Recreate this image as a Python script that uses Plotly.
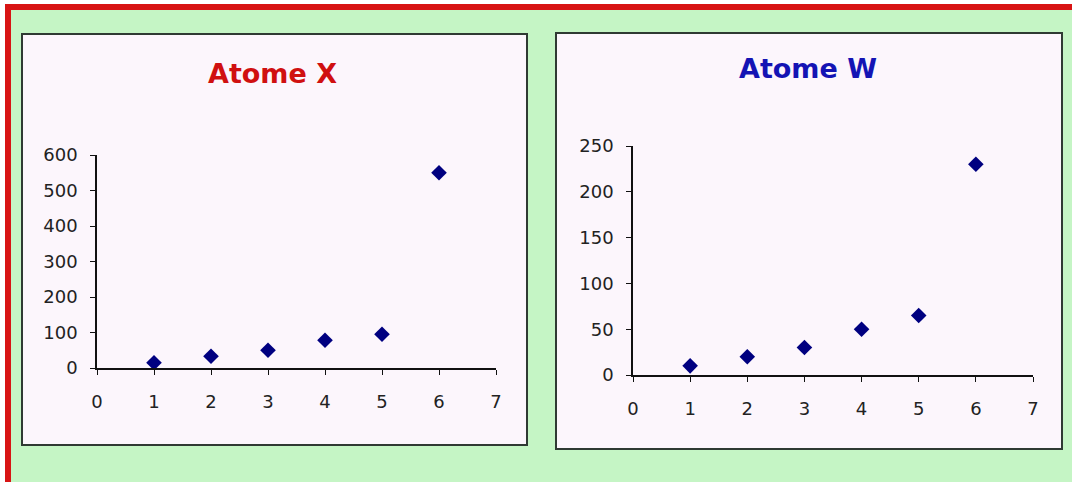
import plotly.graph_objects as go

W, H = 1072, 482

# ---- data ----
x_vals = [1, 2, 3, 4, 5, 6]
atome_x = [15, 33, 50, 78, 95, 550]
atome_w = [10, 20, 30, 50, 65, 230]
title_x = "Atome X"
title_w = "Atome W"
x_ticks = [0, 1, 2, 3, 4, 5, 6, 7]
y_ticks_x = [0, 100, 200, 300, 400, 500, 600]
y_ticks_w = [0, 50, 100, 150, 200, 250]

GREEN = "#c5f5c5"
RED = "#d81414"
PANEL = "#fcf6fc"
NAVY = "#000080"
FONT = "DejaVu Sans"


def px(x):
    return x / W


def py(y):
    return 1 - y / H


fig = go.Figure()
fig.add_trace(go.Scatter(x=x_vals, y=atome_x, mode="markers",
                         marker=dict(symbol="diamond", size=12, color=NAVY),
                         xaxis="x", yaxis="y", showlegend=False))
fig.add_trace(go.Scatter(x=x_vals, y=atome_w, mode="markers",
                         marker=dict(symbol="diamond", size=12, color=NAVY),
                         xaxis="x2", yaxis="y2", showlegend=False))

axis_common = dict(showgrid=False, zeroline=False, showline=True,
                   linecolor="#111111", linewidth=1.6, ticks="outside",
                   ticklen=5, tickwidth=1.3, tickcolor="#111111",
                   tickfont=dict(family=FONT, size=18, color="#222222"),
                   fixedrange=True, automargin=False)

shapes = [
    # chart panels
    dict(type="rect", xref="paper", yref="paper", layer="below",
         x0=px(22), x1=px(527), y0=py(445), y1=py(34),
         fillcolor=PANEL, line=dict(color="#2f3a33", width=2)),
    dict(type="rect", xref="paper", yref="paper", layer="below",
         x0=px(556), x1=px(1062), y0=py(449), y1=py(33),
         fillcolor=PANEL, line=dict(color="#2f3a33", width=2)),
    # red frame: top and left
    dict(type="rect", xref="paper", yref="paper", layer="below",
         x0=px(5), x1=1, y0=py(10), y1=py(4),
         fillcolor=RED, line=dict(width=0)),
    dict(type="rect", xref="paper", yref="paper", layer="below",
         x0=px(5), x1=px(11), y0=0, y1=py(4),
         fillcolor=RED, line=dict(width=0)),
    # white strips outside the frame
    dict(type="rect", xref="paper", yref="paper", layer="below",
         x0=0, x1=1, y0=py(4), y1=1,
         fillcolor="white", line=dict(width=0)),
    dict(type="rect", xref="paper", yref="paper", layer="below",
         x0=0, x1=px(5), y0=0, y1=1,
         fillcolor="white", line=dict(width=0)),
]

annotations = [
    dict(text="<b>%s</b>" % title_x, xref="paper", yref="paper",
         x=px(272), y=py(73), xanchor="center", yanchor="middle",
         showarrow=False, font=dict(family=FONT, size=27, color="#d01010")),
    dict(text="<b>%s</b>" % title_w, xref="paper", yref="paper",
         x=px(808), y=py(69), xanchor="center", yanchor="middle",
         showarrow=False, font=dict(family=FONT, size=27, color="#1414b4")),
]

fig.update_layout(
    width=W, height=H,
    autosize=False,
    margin=dict(l=0, r=0, t=0, b=0, pad=0, autoexpand=False),
    paper_bgcolor=GREEN,
    plot_bgcolor="rgba(0,0,0,0)",
    shapes=shapes,
    annotations=annotations,
    xaxis=dict(axis_common, domain=[px(97), px(496)], range=[0, 7],
               tickvals=x_ticks, anchor="y", ticklabelstandoff=12),
    yaxis=dict(axis_common, domain=[py(368), py(155)], range=[0, 600],
               tickvals=y_ticks_x, anchor="x", ticklabelstandoff=9),
    xaxis2=dict(axis_common, domain=[px(633), px(1033)], range=[0, 7],
                tickvals=x_ticks, anchor="y2", ticklabelstandoff=12),
    yaxis2=dict(axis_common, domain=[py(375), py(146)], range=[0, 250],
                tickvals=y_ticks_w, anchor="x2", ticklabelstandoff=9),
)

fig.write_html(
    "out.html",
    config={"displayModeBar": False, "responsive": False},
    post_script="document.body.style.margin='0';document.body.style.padding='0';"
                "document.body.style.overflow='hidden';",
)
